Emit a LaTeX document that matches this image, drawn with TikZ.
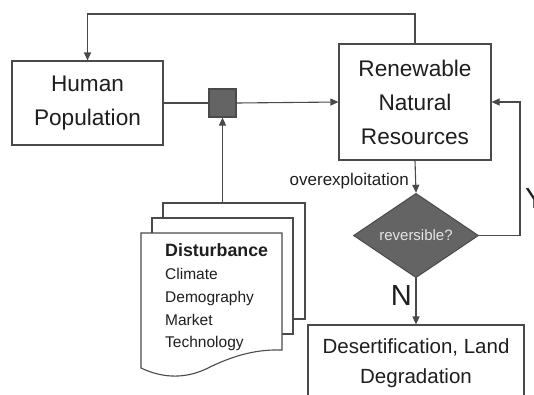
\documentclass[tikz,border=0pt]{standalone}
\usepackage{fontspec}
\setmainfont{Liberation Sans}
\usetikzlibrary{shapes.geometric,arrows.meta}
\definecolor{ln}{HTML}{4A4A4A}
\definecolor{dk}{HTML}{646464}
\definecolor{tx}{HTML}{1E1E1E}
\begin{document}
\begin{tikzpicture}[x=1pt,y=-1pt,
  box/.style={draw=ln,line width=1.1pt,fill=white,inner sep=0pt,align=center,text=tx},
  page/.style={draw=ln,line width=1.1pt,fill=white},
  arr/.style={draw=ln,line width=1.1pt,-{Triangle[length=8pt,width=7pt]}},
  con/.style={draw=ln,line width=1.1pt},
  big/.style={font=\fontsize{22.6}{34}\selectfont}]
\useasboundingbox (0,0) rectangle (534,394);
\clip (0,0) rectangle (534,394);
% nodes
\node[box,big,minimum width=151pt,minimum height=84pt] (hp) at (87.5,103) {Human\\Population};
\node[box,big,minimum width=152pt,minimum height=116pt] (rnr) at (415,102) {Renewable\\Natural\\Resources};
\node[draw=ln,line width=1.1pt,fill=dk,minimum width=27pt,minimum height=28pt,inner sep=0pt] (sq) at (222.5,103) {};
\node[diamond,draw=ln,line width=1pt,fill=dk,minimum width=125pt,minimum height=65pt,inner sep=0pt,
      text=white!80!gray,font=\fontsize{15}{18}\selectfont] (dia) at (416,235.5) {reversible?};
\node[box,font=\fontsize{20.5}{30}\selectfont,minimum width=216pt,minimum height=76pt] (des) at (416,363) {Desertification, Land\\Degradation};
% document stack
\node[page,minimum width=142pt,minimum height=116pt,inner sep=0pt] (p3) at (234,261) {};
\node[page,minimum width=141pt,minimum height=116pt,inner sep=0pt] (p2) at (222.5,276) {};
\draw[page] (141,233) -- (282,233) -- (282,350)
   .. controls (252,349) and (228,358) .. (206,369)
   .. controls (182,380) and (160,377) .. (141,368) -- cycle;
\node[anchor=west,inner sep=0pt,align=left,text=tx,font=\fontsize{15.5}{22.7}\selectfont] (dist) at (165,297.5)
  {{\bfseries\fontsize{17.8}{22.7}\selectfont Disturbance}\\Climate\\Demography\\Market\\Technology};
% helper coordinates
\coordinate (top) at (0,14);
\coordinate (rx) at (520,0);
% connectors
\draw[arr] (rnr.north) -- (rnr.north |- top) -| (hp.north);
\draw[con] (hp.east) -- (sq.west);
\draw[arr] (sq.east) -- (rnr.west);
\draw[arr] (sq.south |- p3.north) -- (sq.south);
\draw[arr] (rnr.south) -- (dia.north);
\draw[arr] (dia.east) -- (dia.east -| rx) -- (rx |- rnr.east) -- (rnr.east);
\draw[arr] (dia.south) -- (des.north);
% labels
\node[anchor=east,inner sep=0pt,text=tx,font=\fontsize{17}{20}\selectfont] (ovl) at (409,181) {overexploitation};
\node[anchor=north west,inner sep=0pt,text=tx,font=\fontsize{29}{30}\selectfont] (ylab) at (525,188) {Y};
\node[anchor=east,inner sep=0pt,text=tx,font=\fontsize{29}{30}\selectfont] (nlab) at (412,296) {N};
\end{tikzpicture}
\end{document}
